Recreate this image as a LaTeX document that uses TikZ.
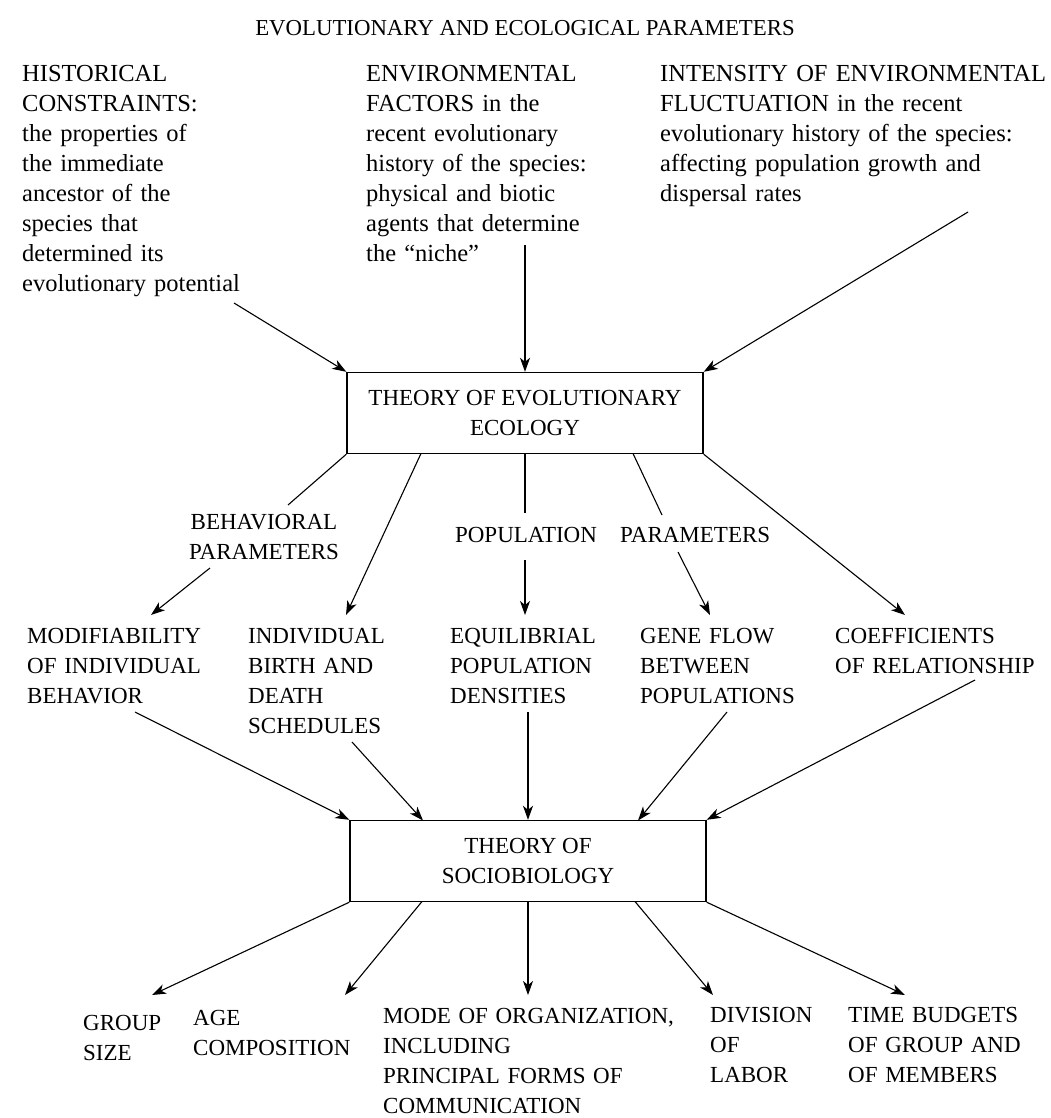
\documentclass[tikz,border=0pt]{standalone}
\usepackage{fontspec}
\setmainfont{Liberation Serif}
\usetikzlibrary{arrows.meta}
\begin{document}
\begin{tikzpicture}[x=1pt,y=-1pt,
  every node/.style={inner sep=0pt},
  fnt/.style={font=\fontsize{23}{30}\selectfont},
  topfnt/.style={font=\fontsize{24.5}{30}\selectfont},
  lbl/.style={fnt, anchor=base west, align=left, text width=#1},
  lbl/.default=420pt,
  ctr/.style={fnt, anchor=base, align=center, text width=#1},
  ctr/.default=220pt,
  box/.style={draw, line width=1.4pt, fnt, align=center, minimum width=356pt, minimum height=81pt},
  arr/.style={line width=1.1pt, -{Stealth[length=14pt,width=10pt,inset=4pt]}},
  ln/.style={line width=1.1pt}
]
\useasboundingbox (0,0) rectangle (1051,1118);

% title
\node[font=\fontsize{22.8}{30}\selectfont, anchor=base] (title) at (525,36) {EVOLUTIONARY AND ECOLOGICAL PARAMETERS};

% top blocks
\node[lbl, topfnt] (hist) at (22,82) {HISTORICAL\\CONSTRAINTS:\\the properties of\\the immediate\\ancestor of the\\species that\\determined its\\evolutionary potential};
\node[lbl, topfnt] (env) at (366,82) {ENVIRONMENTAL\\FACTORS in the\\recent evolutionary\\history of the species:\\physical and biotic\\agents that determine\\the “niche”};
\node[lbl, topfnt] (fluct) at (660,82) {INTENSITY OF ENVIRONMENTAL\\FLUCTUATION in the recent\\evolutionary history of the species:\\affecting population growth and\\dispersal rates};

% boxes
\node[box] (eco) at (525,413) {THEORY OF EVOLUTIONARY\\ECOLOGY};
\node[box] (soc) at (528,861) {THEORY OF\\SOCIOBIOLOGY};

% arrows into eco
\coordinate (h1) at (234,303);
\coordinate (e1) at (525,245);
\coordinate (f1) at (968,212);
\draw[arr] (h1) -- (eco.north west);
\draw[arr] (e1) -- (eco.north);
\draw[arr] (f1) -- (eco.north east);

% parameter labels
\node[ctr] (beh) at (264,529) {BEHAVIORAL\\PARAMETERS};
\node[fnt, anchor=base] (pop) at (526,542) {POPULATION};
\node[fnt, anchor=base west] (par) at (620,542) {PARAMETERS};

% middle row
\node[lbl] (modi) at (27,643) {MODIFIABILITY\\OF INDIVIDUAL\\BEHAVIOR};
\node[lbl] (indi) at (248,643) {INDIVIDUAL\\BIRTH AND\\DEATH\\SCHEDULES};
\node[lbl] (equi) at (450,643) {EQUILIBRIAL\\POPULATION\\DENSITIES};
\node[lbl] (gene) at (640,643) {GENE FLOW\\BETWEEN\\POPULATIONS};
\node[lbl] (coef) at (835,643) {COEFFICIENTS\\OF RELATIONSHIP};

% arrows from eco
\coordinate (b0) at (288,505);
\coordinate (b1) at (210,568);
\coordinate (b2) at (151,615);
\draw[ln] (eco.south west) -- (b0);
\draw[arr] (b1) -- (b2);
\coordinate (i0) at (421,453.5);
\coordinate (i1) at (346,615);
\draw[arr] (i0) -- (i1);
\coordinate (p0) at (525,513);
\coordinate (p1) at (525,560);
\coordinate (p2) at (525,615);
\draw[ln] (eco.south) -- (p0);
\draw[arr] (p1) -- (p2);
\coordinate (g0) at (633,453.5);
\coordinate (g1) at (662,515);
\coordinate (g2) at (678,552);
\coordinate (g3) at (710,615);
\draw[ln] (g0) -- (g1);
\draw[arr] (g2) -- (g3);
\coordinate (c1) at (905,615);
\draw[arr] (eco.south east) -- (c1);

% arrows into soc
\coordinate (m0) at (135,712);
\coordinate (s0) at (352,742);
\coordinate (s1) at (423,820.5);
\coordinate (q0) at (528,712);
\coordinate (gf0) at (727,712);
\coordinate (gf1) at (638,820.5);
\coordinate (co0) at (975,680);
\draw[arr] (m0) -- (soc.north west);
\draw[arr] (s0) -- (s1);
\draw[arr] (q0) -- (soc.north);
\draw[arr] (gf0) -- (gf1);
\draw[arr] (co0) -- (soc.north east);

% bottom row
\node[lbl] (grp) at (83,1030) {GROUP\\SIZE};
\node[lbl] (age) at (193,1025) {AGE\\COMPOSITION};
\node[lbl] (mode) at (383,1023) {MODE OF ORGANIZATION,\\INCLUDING\\PRINCIPAL FORMS OF\\COMMUNICATION};
\node[lbl] (divi) at (710,1022) {DIVISION\\OF\\LABOR};
\node[lbl] (time) at (848,1022) {TIME BUDGETS\\OF GROUP AND\\OF MEMBERS};

% arrows from soc
\coordinate (t1) at (152,995);
\coordinate (a0) at (422,901.5);
\coordinate (a1) at (345,995);
\coordinate (o1) at (528,995);
\coordinate (d0) at (635,901.5);
\coordinate (d1) at (713,995);
\coordinate (tb1) at (905,995);
\draw[arr] (soc.south west) -- (t1);
\draw[arr] (a0) -- (a1);
\draw[arr] (soc.south) -- (o1);
\draw[arr] (d0) -- (d1);
\draw[arr] (soc.south east) -- (tb1);
\end{tikzpicture}
\end{document}
